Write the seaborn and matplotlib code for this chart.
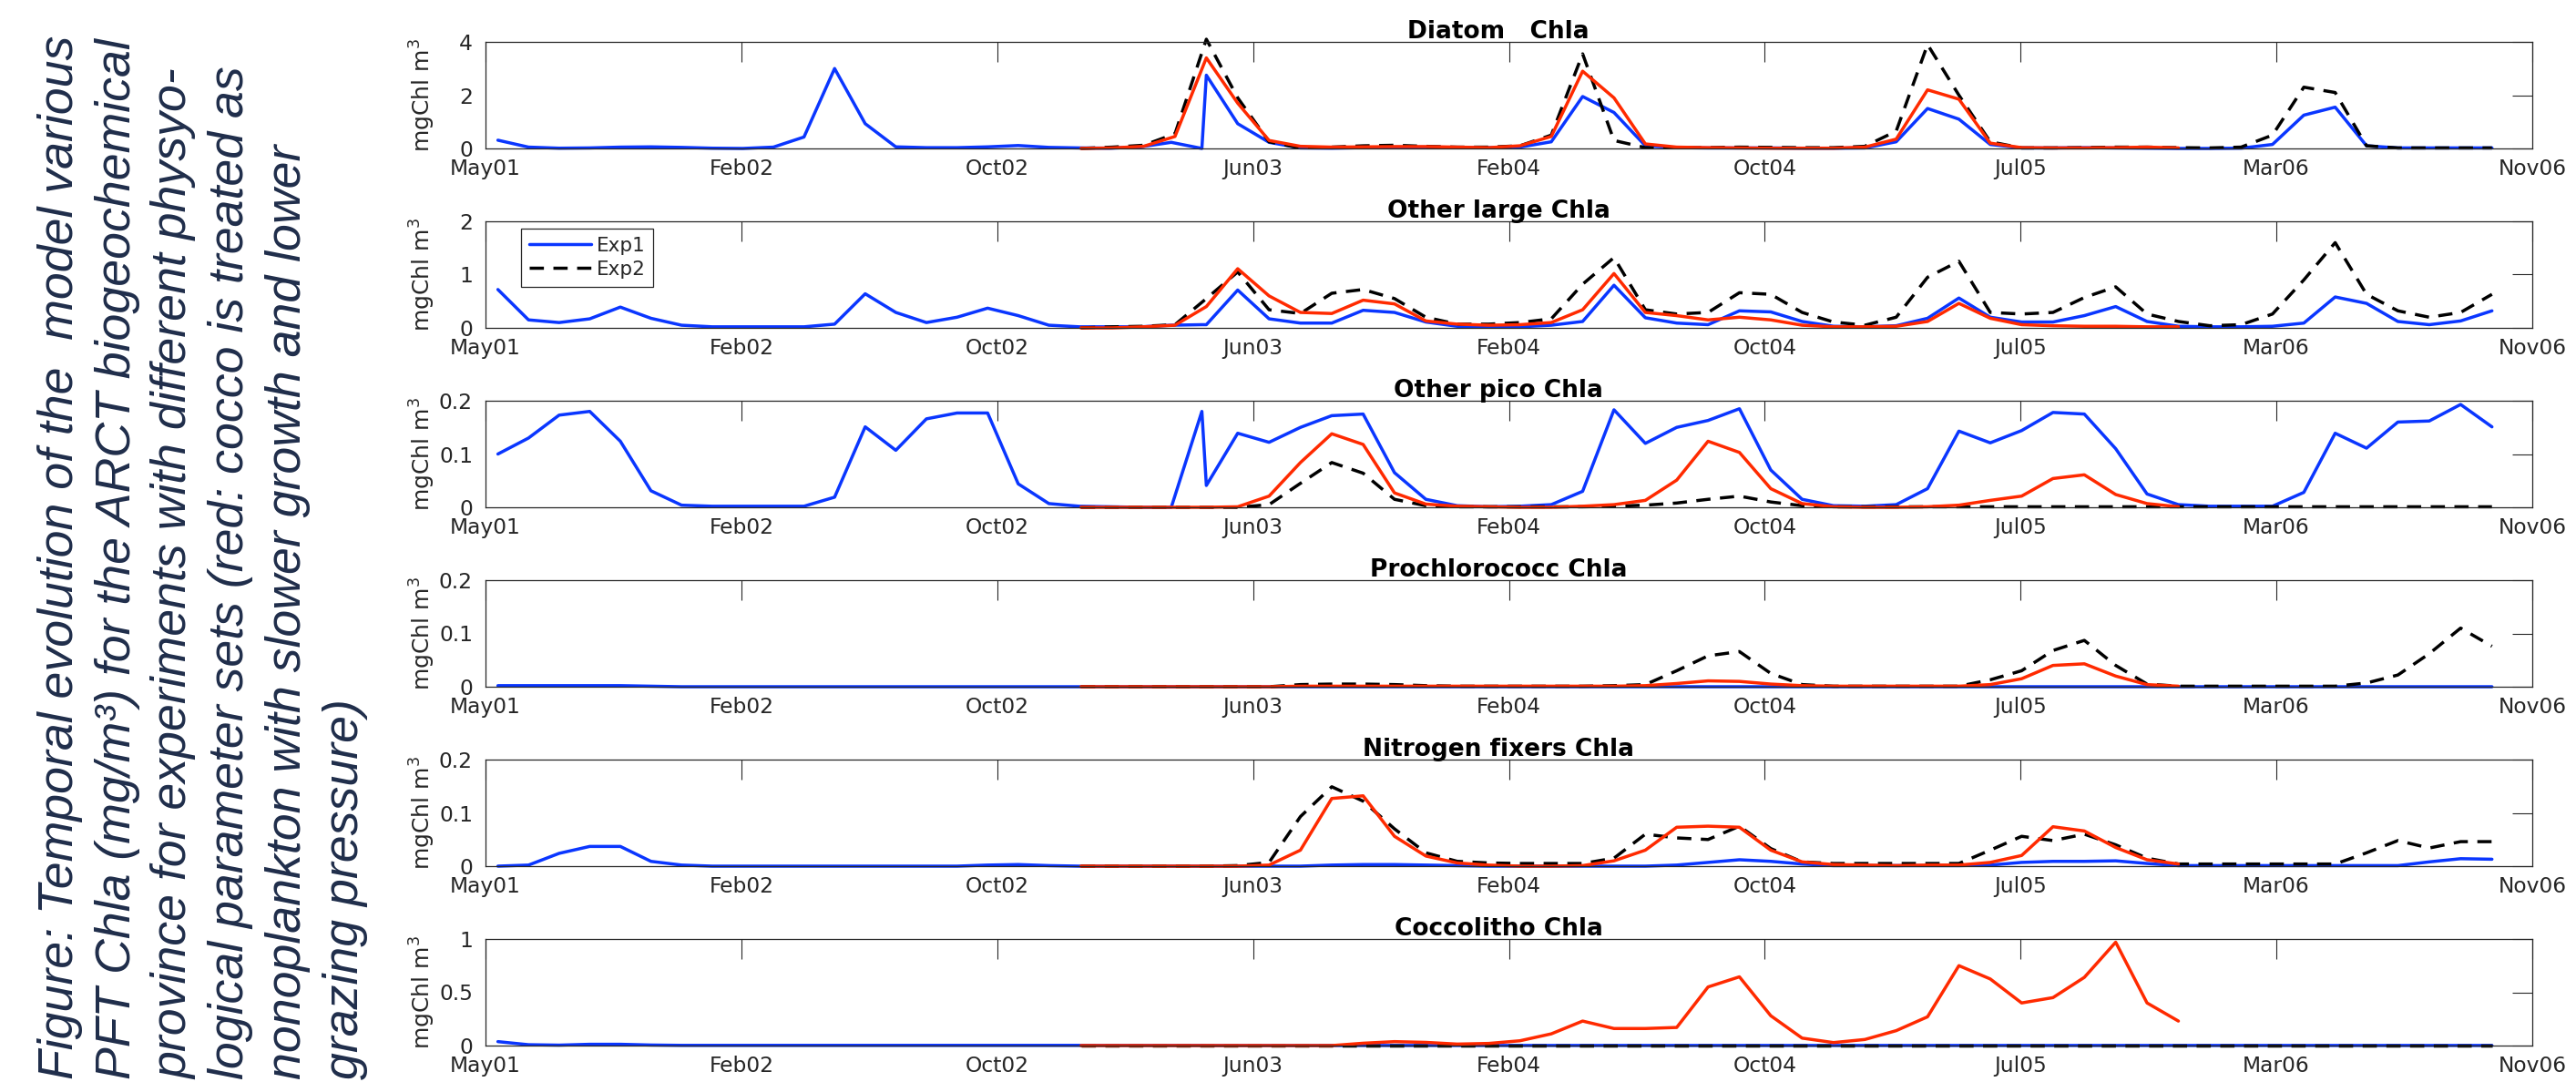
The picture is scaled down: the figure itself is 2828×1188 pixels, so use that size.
import numpy as np
import matplotlib
matplotlib.use("Agg")
import matplotlib.pyplot as plt
import seaborn as sns

# --- Time axis: months since 1 May 2001 ---
# Exp1, first run (May01 .. Apr03)
months_run1 = np.linspace(0.4, 23.1, 24)
# Exp1 second run, Exp2 and the red run share this grid (Dec02 .. Sep06)
months_run2 = np.linspace(19.2, 64.7, 46)
RESTART = 4    # first index of months_run2 used by the second Exp1 run
N_RED = 36     # red run stops in Nov05

tick_labels = ["May01", "Feb02", "Oct02", "Jun03", "Feb04",
               "Oct04", "Jul05", "Mar06", "Nov06"]

titles = ["Diatom   Chla", "Other large Chla", "Other pico Chla",
          "Prochlorococc Chla", "Nitrogen fixers Chla", "Coccolitho Chla"]
y_max = [4, 2, 0.2, 0.2, 0.2, 1]
y_ticks = [[0, 2, 4], [0, 1, 2], [0, 0.1, 0.2], [0, 0.1, 0.2], [0, 0.1, 0.2], [0, 0.5, 1]]
y_ticklabels = [["0", "2", "4"], ["0", "1", "2"], ["0", "0.1", "0.2"],
                ["0", "0.1", "0.2"], ["0", "0.1", "0.2"], ["0", "0.5", "1"]]

caption = [
    "Figure: Temporal evolution of the  model various",
    "PFT Chla (mg/m\u00b3) for the ARCT biogeochemical",
    "province for experiments with different physyo-",
    "logical parameter sets (red: cocco is treated as",
    "nonoplankton with slower growth and lower",
    "grazing pressure)",
]

# --- Diatom ---
diatom_exp1_a = [0.31, 0.05, 0.01, 0.02, 0.05, 0.06, 0.04, 0.01, 0.00, 0.05,
                 0.43, 3.00, 0.93, 0.06, 0.03, 0.03, 0.06, 0.11, 0.04, 0.02,
                 0.01, 0.06, 0.23, 0.00]
diatom_exp1_b = [2.75, 0.93, 0.23, 0.02, 0.01, 0.03, 0.05, 0.05, 0.04, 0.03,
                 0.05, 0.25, 1.95, 1.35, 0.10, 0.03, 0.02, 0.02, 0.02, 0.01,
                 0.01, 0.02, 0.25, 1.50, 1.10, 0.15, 0.02, 0.02, 0.03, 0.02,
                 0.01, 0.00, 0.00, 0.01, 0.15, 1.25, 1.55, 0.10, 0.02, 0.02,
                 0.02, 0.02]
diatom_exp2 = [0.00, 0.05, 0.12, 0.55, 4.10, 1.90, 0.25, 0.02, 0.05, 0.10,
               0.12, 0.08, 0.05, 0.05, 0.10, 0.50, 3.55, 0.30, 0.03, 0.03,
               0.03, 0.05, 0.04, 0.03, 0.03, 0.08, 0.65, 3.90, 2.00, 0.25,
               0.02, 0.02, 0.03, 0.05, 0.05, 0.03, 0.02, 0.05, 0.50, 2.30,
               2.10, 0.10, 0.02, 0.02, 0.02, 0.02]
diatom_red = [0.00, 0.02, 0.08, 0.45, 3.40, 1.70, 0.30, 0.08, 0.05, 0.06,
              0.07, 0.07, 0.05, 0.03, 0.10, 0.45, 2.90, 1.90, 0.17, 0.05,
              0.03, 0.02, 0.01, 0.01, 0.01, 0.05, 0.35, 2.20, 1.85, 0.20,
              0.03, 0.02, 0.02, 0.03, 0.05, 0.02]

# --- Other large ---
large_exp1_a = [0.72, 0.15, 0.10, 0.17, 0.39, 0.18, 0.05, 0.02, 0.02, 0.02,
                0.02, 0.07, 0.64, 0.29, 0.10, 0.20, 0.37, 0.23, 0.05, 0.02,
                0.02, 0.02, 0.05, 0.06]
large_exp1_b = [0.06, 0.71, 0.17, 0.09, 0.09, 0.33, 0.29, 0.11, 0.03, 0.02,
                0.02, 0.05, 0.12, 0.80, 0.19, 0.09, 0.06, 0.32, 0.30, 0.12,
                0.03, 0.02, 0.04, 0.18, 0.56, 0.20, 0.11, 0.11, 0.23, 0.40,
                0.12, 0.03, 0.02, 0.02, 0.03, 0.09, 0.58, 0.46, 0.12, 0.06,
                0.13, 0.32]
large_exp2 = [0.00, 0.02, 0.03, 0.06, 0.55, 1.05, 0.34, 0.27, 0.65, 0.72,
              0.55, 0.20, 0.07, 0.07, 0.10, 0.17, 0.82, 1.32, 0.34, 0.26,
              0.29, 0.66, 0.63, 0.29, 0.11, 0.05, 0.20, 0.95, 1.25, 0.29,
              0.26, 0.29, 0.57, 0.77, 0.26, 0.12, 0.04, 0.06, 0.26, 0.90,
              1.60, 0.63, 0.32, 0.20, 0.29, 0.63]
large_red = [0.00, 0.00, 0.02, 0.05, 0.40, 1.11, 0.60, 0.29, 0.27, 0.52,
             0.45, 0.13, 0.07, 0.05, 0.06, 0.10, 0.34, 1.02, 0.29, 0.23,
             0.15, 0.20, 0.15, 0.05, 0.02, 0.02, 0.03, 0.12, 0.46, 0.18,
             0.06, 0.04, 0.03, 0.03, 0.02, 0.02]

# --- Other pico ---
pico_exp1_a = [0.100, 0.130, 0.173, 0.180, 0.124, 0.031, 0.004, 0.002, 0.002, 0.002,
               0.002, 0.019, 0.151, 0.107, 0.166, 0.177, 0.177, 0.044, 0.007, 0.002,
               0.001, 0.000, 0.000, 0.180]
pico_exp1_b = [0.041, 0.139, 0.122, 0.150, 0.172, 0.175, 0.065, 0.015, 0.003, 0.001,
               0.002, 0.005, 0.030, 0.183, 0.120, 0.150, 0.163, 0.185, 0.070, 0.015,
               0.003, 0.002, 0.005, 0.035, 0.143, 0.121, 0.144, 0.178, 0.175, 0.110,
               0.025, 0.005, 0.002, 0.002, 0.002, 0.028, 0.139, 0.111, 0.160, 0.162,
               0.193, 0.151]
pico_exp2 = [0.000, 0.000, 0.000, 0.000, 0.000, 0.000, 0.005, 0.045, 0.084, 0.064,
             0.015, 0.003, 0.001, 0.001, 0.001, 0.001, 0.001, 0.002, 0.004, 0.008,
             0.015, 0.021, 0.010, 0.003, 0.001, 0.001, 0.001, 0.001, 0.001, 0.001,
             0.001, 0.001, 0.001, 0.001, 0.001, 0.001, 0.001, 0.001, 0.001, 0.001,
             0.001, 0.001, 0.001, 0.001, 0.001, 0.001]
pico_red = [0.000, 0.000, 0.000, 0.000, 0.000, 0.001, 0.021, 0.084, 0.138, 0.118,
            0.027, 0.006, 0.002, 0.001, 0.000, 0.000, 0.002, 0.005, 0.013, 0.051,
            0.124, 0.103, 0.035, 0.007, 0.001, 0.000, 0.000, 0.001, 0.004, 0.013,
            0.021, 0.054, 0.061, 0.024, 0.007, 0.001]

# --- Prochlorococcus ---
pro_exp1_a = [0.002, 0.002, 0.002, 0.002, 0.002, 0.001, 0.000, 0.000, 0.000, 0.000,
              0.000, 0.000, 0.000, 0.000, 0.000, 0.000, 0.000, 0.000, 0.000, 0.000,
              0.000, 0.000, 0.000, 0.000]
pro_exp1_b = [0.000, 0.000, 0.000, 0.000, 0.000, 0.000, 0.000, 0.000, 0.000, 0.000,
              0.000, 0.000, 0.000, 0.000, 0.000, 0.000, 0.000, 0.000, 0.000, 0.000,
              0.000, 0.000, 0.000, 0.000, 0.000, 0.000, 0.000, 0.000, 0.000, 0.000,
              0.000, 0.000, 0.000, 0.000, 0.000, 0.000, 0.000, 0.000, 0.000, 0.000,
              0.000, 0.000]
pro_exp2 = [0.000, 0.000, 0.000, 0.000, 0.000, 0.000, 0.000, 0.004, 0.005, 0.005,
            0.004, 0.002, 0.001, 0.001, 0.001, 0.001, 0.001, 0.002, 0.004, 0.030,
            0.058, 0.066, 0.025, 0.004, 0.001, 0.001, 0.001, 0.001, 0.001, 0.013,
            0.030, 0.068, 0.087, 0.040, 0.005, 0.001, 0.001, 0.001, 0.001, 0.001,
            0.001, 0.007, 0.022, 0.062, 0.110, 0.076]
pro_red = [0.000, 0.000, 0.000, 0.000, 0.000, 0.000, 0.000, 0.001, 0.001, 0.001,
           0.001, 0.001, 0.001, 0.001, 0.001, 0.001, 0.001, 0.001, 0.002, 0.006,
           0.011, 0.010, 0.005, 0.002, 0.001, 0.001, 0.001, 0.001, 0.001, 0.004,
           0.015, 0.040, 0.043, 0.020, 0.004, 0.001]

# --- Nitrogen fixers ---
nfix_exp1_a = [0.000, 0.002, 0.024, 0.037, 0.037, 0.009, 0.002, 0.000, 0.000, 0.000,
               0.000, 0.000, 0.000, 0.000, 0.000, 0.000, 0.002, 0.003, 0.001, 0.000,
               0.000, 0.000, 0.000, 0.000]
nfix_exp1_b = [0.000, 0.000, 0.000, 0.000, 0.002, 0.003, 0.003, 0.002, 0.001, 0.000,
               0.000, 0.000, 0.000, 0.000, 0.000, 0.002, 0.007, 0.012, 0.009, 0.004,
               0.001, 0.001, 0.001, 0.001, 0.001, 0.002, 0.007, 0.009, 0.009, 0.010,
               0.005, 0.001, 0.001, 0.001, 0.001, 0.001, 0.001, 0.001, 0.001, 0.008,
               0.014, 0.013]
nfix_exp2 = [0.000, 0.000, 0.000, 0.000, 0.000, 0.001, 0.007, 0.093, 0.149, 0.122,
             0.070, 0.025, 0.009, 0.006, 0.005, 0.005, 0.005, 0.015, 0.060, 0.053,
             0.050, 0.075, 0.033, 0.008, 0.005, 0.005, 0.005, 0.005, 0.005, 0.030,
             0.056, 0.048, 0.060, 0.040, 0.015, 0.004, 0.004, 0.004, 0.004, 0.004,
             0.004, 0.025, 0.048, 0.034, 0.046, 0.046]
nfix_red = [0.000, 0.000, 0.000, 0.000, 0.000, 0.000, 0.002, 0.030, 0.127, 0.132,
            0.056, 0.019, 0.006, 0.002, 0.000, 0.000, 0.001, 0.010, 0.030, 0.073,
            0.075, 0.073, 0.030, 0.008, 0.003, 0.002, 0.001, 0.002, 0.002, 0.007,
            0.020, 0.074, 0.066, 0.035, 0.012, 0.004]

# --- Coccolithophores ---
cocco_exp1_a = [0.037, 0.008, 0.004, 0.012, 0.012, 0.005, 0.002, 0.002, 0.002, 0.002,
                0.002, 0.002, 0.002, 0.002, 0.002, 0.002, 0.002, 0.002, 0.002, 0.002,
                0.002, 0.002, 0.002, 0.002]
cocco_exp1_b = [0.001, 0.001, 0.001, 0.001, 0.001, 0.001, 0.001, 0.001, 0.001, 0.001,
                0.001, 0.001, 0.001, 0.001, 0.001, 0.001, 0.001, 0.001, 0.001, 0.001,
                0.001, 0.001, 0.001, 0.001, 0.001, 0.001, 0.001, 0.001, 0.001, 0.001,
                0.001, 0.001, 0.001, 0.001, 0.001, 0.001, 0.001, 0.001, 0.001, 0.001,
                0.001, 0.001]
cocco_exp2 = [0.001, 0.001, 0.001, 0.001, 0.001, 0.001, 0.001, 0.001, 0.001, 0.001,
              0.001, 0.001, 0.001, 0.001, 0.001, 0.001, 0.001, 0.001, 0.001, 0.001,
              0.001, 0.001, 0.001, 0.001, 0.001, 0.001, 0.001, 0.001, 0.001, 0.001,
              0.001, 0.001, 0.001, 0.001, 0.001, 0.001, 0.001, 0.001, 0.001, 0.001,
              0.001, 0.001, 0.001, 0.001, 0.001, 0.001]
cocco_red = [0.000, 0.000, 0.000, 0.000, 0.000, 0.000, 0.000, 0.000, 0.000, 0.022,
             0.037, 0.030, 0.014, 0.020, 0.045, 0.110, 0.230, 0.160, 0.160, 0.170,
             0.550, 0.645, 0.280, 0.070, 0.028, 0.057, 0.140, 0.270, 0.750, 0.625,
             0.400, 0.450, 0.640, 0.970, 0.400, 0.230]

panels = [
    (diatom_exp1_a, diatom_exp1_b, diatom_exp2, diatom_red),
    (large_exp1_a, large_exp1_b, large_exp2, large_red),
    (pico_exp1_a, pico_exp1_b, pico_exp2, pico_red),
    (pro_exp1_a, pro_exp1_b, pro_exp2, pro_red),
    (nfix_exp1_a, nfix_exp1_b, nfix_exp2, nfix_red),
    (cocco_exp1_a, cocco_exp1_b, cocco_exp2, cocco_red),
]

BLUE = "#0a36ff"
RED = "#ff2a00"
AXC = "#262626"
LW = 2.5

# --- Style ---
sns.set_style("white")
plt.rcParams["font.family"] = ["DejaVu Sans"]
plt.rcParams["mathtext.fontset"] = "dejavusans"

W, H = 2828, 1188
fig = plt.figure(figsize=(W / 100, H / 100), dpi=100)

left_px, width_px = 533, 2247
top0_px, step_px, height_px = 46, 197, 117
x_ticks = np.linspace(0, 66, 9)

for p, (title, (e1a, e1b, e2, red)) in enumerate(zip(titles, panels)):
    top = top0_px + p * step_px
    ax = fig.add_axes([left_px / W, 1 - (top + height_px) / H, width_px / W, height_px / H])

    x1 = np.concatenate([months_run1, months_run2[RESTART:]])
    y1 = np.concatenate([e1a, e1b])
    assert len(x1) == len(y1), title

    sns.lineplot(x=x1, y=y1, ax=ax, color=BLUE, linewidth=LW, label="Exp1",
                 sort=False, estimator=None, legend=False)
    sns.lineplot(x=months_run2, y=e2, ax=ax, color="black", linewidth=LW,
                 label="Exp2", sort=False, estimator=None, legend=False)
    ax.lines[-1].set_dashes((4.5, 3))
    sns.lineplot(x=months_run2[:N_RED], y=red, ax=ax, color=RED, linewidth=LW,
                 sort=False, estimator=None, legend=False)
    for ln in ax.lines:
        ln.set_clip_on(False)

    ax.set_xlim(0, 66)
    ax.set_ylim(0, y_max[p])
    ax.set_xticks(x_ticks)
    ax.set_xticklabels(tick_labels)
    ax.set_yticks(y_ticks[p])
    ax.set_yticklabels(y_ticklabels[p])
    ax.tick_params(axis="both", direction="in", length=15.8, width=0.8,
                   top=True, right=True, labelsize=16.8, colors=AXC)
    ax.tick_params(axis="x", pad=8)
    ax.tick_params(axis="y", pad=10)
    for s in ax.spines.values():
        s.set_visible(True)
        s.set_color(AXC)
        s.set_linewidth(0.9)

    ax.set_title(title, fontsize=19, fontweight="bold", pad=3, color="black", x=0.495)
    ax.set_ylabel("mgChl m$^3$", fontsize=18, color=AXC)
    ax.yaxis.set_label_coords(-0.0236, 0.5)

    if p == 1:
        leg = ax.legend(handles=ax.lines[:2], labels=["Exp1", "Exp2"],
                        loc="upper left", bbox_to_anchor=(0.0174, 0.932),
                        borderaxespad=0, fontsize=15.5, handlelength=3.15,
                        handletextpad=0.3, labelspacing=0.3, borderpad=0.4,
                        fancybox=False, framealpha=1)
        leg.get_frame().set_edgecolor(AXC)
        leg.get_frame().set_linewidth(0.9)

# --- Caption on the left, rotated ---
for k, line in enumerate(caption):
    fig.text((80 + 62.5 * k) / W, 3 / H, line, rotation=90, rotation_mode="anchor",
             ha="left", va="baseline", fontsize=38.6, style="italic",
             family=["Liberation Sans", "DejaVu Sans"], color="#1f2d4a")

fig.savefig("out.png", dpi=100)
